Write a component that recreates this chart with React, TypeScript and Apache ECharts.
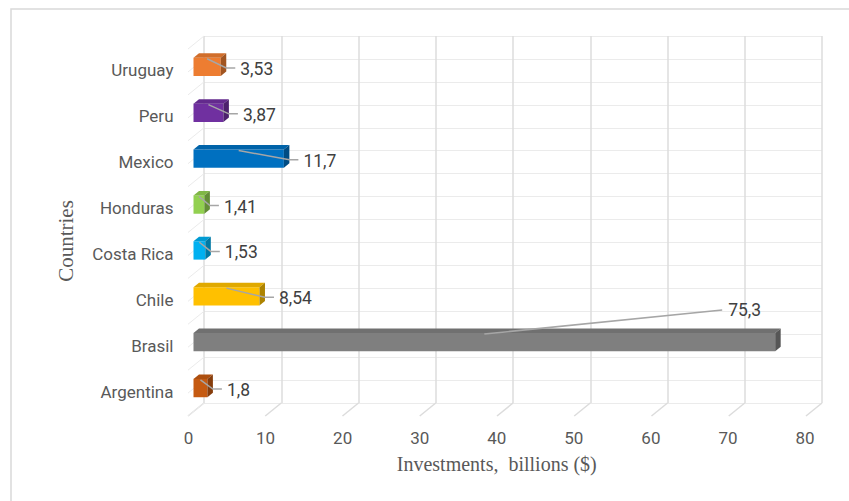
import React, { useEffect, useRef } from "react";
import * as echarts from "echarts";

const categories = ["Argentina", "Brasil", "Chile", "Costa Rica", "Honduras", "Mexico", "Peru", "Uruguay"];
const investments = [1.8, 75.3, 8.54, 1.53, 1.41, 11.7, 3.87, 3.53];
const barColors = ["#C55A11", "#7F7F7F", "#FFC000", "#00B0F0", "#92D050", "#0070C0", "#7030A0", "#ED7D31"];
const xTicks = [0, 10, 20, 30, 40, 50, 60, 70, 80];
const wallLines = [0, 1, 2, 3, 4, 5, 6, 7, 8, 9, 10, 11, 12, 13, 14, 15, 16];

const SANS = "Roboto, 'Liberation Sans', sans-serif";
const SERIF = "'Liberation Serif', 'Times New Roman', serif";

function shade(hex: string, f: number): string {
  const n = parseInt(hex.slice(1), 16);
  const r = Math.round(((n >> 16) & 255) * f);
  const g = Math.round(((n >> 8) & 255) * f);
  const b = Math.round((n & 255) * f);
  return "rgb(" + r + "," + g + "," + b + ")";
}

export default function App() {
  const ref = useRef<HTMLDivElement>(null);
  useEffect(() => {
    document.body.style.margin = "0";
    const chart = echarts.init(ref.current!, null, { renderer: "svg" });
    const DX = 5.5;
    const DY = 4.5;
    const option: any = {
      animation: false,
      backgroundColor: "#ffffff",
      graphic: [
        {
          type: "rect",
          shape: { x: 11, y: 9, width: 900, height: 600 },
          style: { fill: "none", stroke: "#d9d9d9", lineWidth: 1.5 },
          silent: true,
        },
        {
          type: "text",
          x: 66,
          y: 241,
          rotation: Math.PI / 2,
          style: {
            text: "Countries",
            font: "21px " + SERIF,
            fill: "#595959",
            align: "center",
            verticalAlign: "middle",
          },
        },
      ],
      grid: [
        { left: 204, right: 27, top: 36, bottom: 98 },
        { left: 193.5, right: 37.5, top: 44, bottom: 90 },
        { left: 188.5, right: 44, top: 49, bottom: 85 },
        { left: 193.5, right: 37.5, top: 47.5, bottom: 86.5 },
      ],
      xAxis: [
        {
          gridIndex: 0,
          type: "value",
          min: 0,
          max: 80,
          interval: 10,
          axisLabel: { show: false },
          axisLine: { show: false },
          axisTick: { show: false },
          splitLine: { show: true, lineStyle: { color: "#dcdcdc", width: 1.5 } },
        },
        {
          gridIndex: 1,
          type: "value",
          min: 0,
          max: 80,
          show: false,
        },
        {
          gridIndex: 2,
          type: "value",
          min: 0,
          max: 80,
          interval: 10,
          axisLabel: { show: true, margin: 13, color: "#595959", fontSize: 17, fontFamily: SANS },
          axisLine: { show: false },
          axisTick: { show: false },
          splitLine: { show: false },
          name: "Investments,  billions ($)",
          nameLocation: "middle",
          nameGap: 38,
          nameTextStyle: { color: "#595959", fontSize: 20, fontFamily: SERIF },
        },
        {
          gridIndex: 3,
          type: "value",
          min: 0,
          max: 80,
          show: false,
        },
      ],
      yAxis: [
        {
          gridIndex: 0,
          type: "value",
          min: 0,
          max: 16,
          interval: 1,
          axisLabel: { show: false },
          axisLine: { show: false },
          axisTick: { show: false },
          splitLine: { show: true, lineStyle: { color: "#ebebeb", width: 1 } },
        },
        {
          gridIndex: 1,
          type: "category",
          data: categories,
          show: false,
        },
        {
          gridIndex: 2,
          type: "value",
          min: 0,
          max: 1,
          show: false,
        },
        {
          gridIndex: 3,
          type: "category",
          data: categories,
          axisLine: { show: false },
          axisTick: { show: false },
          splitLine: { show: false },
          axisLabel: {
            margin: 20,
            color: "#595959",
            fontSize: 17,
            fontFamily: SANS,
          },
        },
      ],
      series: [
        {
          type: "custom",
          xAxisIndex: 0,
          yAxisIndex: 0,
          silent: true,
          data: xTicks.map((t) => [t, 0]),
          renderItem: (params: any, api: any) => {
            const p = api.coord([api.value(0), 0]);
            return {
              type: "line",
              shape: { x1: p[0], y1: p[1], x2: p[0] - 16, y2: p[1] + 13 },
              style: { stroke: "#dcdcdc", lineWidth: 1.5 },
            };
          },
        },
        {
          type: "custom",
          xAxisIndex: 0,
          yAxisIndex: 0,
          silent: true,
          data: wallLines.map((k) => [0, k]),
          renderItem: (params: any, api: any) => {
            const p = api.coord([0, api.value(1)]);
            return {
              type: "line",
              shape: { x1: p[0], y1: p[1], x2: p[0] - 16, y2: p[1] + 13 },
              style: { stroke: "#ebebeb", lineWidth: 1 },
            };
          },
        },
        {
          type: "custom",
          xAxisIndex: 1,
          yAxisIndex: 1,
          data: investments.map((v, i) => [v, i]),
          encode: { x: 0, y: 1 },
          renderItem: (params: any, api: any) => {
            const v = api.value(0);
            const idx = params.dataIndex;
            const p0 = api.coord([0, idx]);
            const p1 = api.coord([v, idx]);
            const h = api.size([0, 1])[1] * 0.4;
            const x0 = p0[0];
            const x1 = p1[0];
            const cy = p0[1];
            const yt = cy - h / 2;
            const yb = cy + h / 2;
            const col = barColors[idx];
            const children: any[] = [];
            children.push({
              type: "rect",
              shape: { x: x0, y: yt, width: x1 - x0, height: h },
              style: { fill: col },
            });
            children.push({
              type: "polygon",
              shape: { points: [[x0, yt], [x1, yt], [x1 + DX, yt - DY], [x0 + DX, yt - DY]] },
              style: { fill: shade(col, 0.88) },
            });
            children.push({
              type: "polygon",
              shape: { points: [[x1, yt], [x1 + DX, yt - DY], [x1 + DX, yb - DY], [x1, yb]] },
              style: { fill: shade(col, 0.68) },
            });
            const txt = String(v).replace(".", ",");
            const sx = (x0 + x1) / 2;
            const sy = yt + 1;
            let pts: number[][];
            let lx: number;
            let ly: number;
            if (v > 40) {
              lx = x1 - 47;
              ly = yt - 23;
              pts = [[sx, sy], [lx - 6, ly]];
            } else {
              lx = x1 + DX + 14;
              ly = cy + 2;
              pts = [[sx, sy], [x1 + DX, cy + 1], [lx - 5, cy + 1]];
            }
            children.push({
              type: "polyline",
              shape: { points: pts },
              style: { stroke: "#a6a6a6", lineWidth: 1.5, fill: null },
            });
            children.push({
              type: "text",
              x: lx,
              y: ly,
              style: {
                text: txt,
                fill: "#404040",
                font: "17.5px " + SANS,
                align: "left",
                verticalAlign: "middle",
              },
            });
            return { type: "group", children };
          },
        },
      ],
    };
    chart.setOption(option);
    return () => chart.dispose();
  }, []);
  return <div ref={ref} style={{ width: 849, height: 501 }} />;
}
